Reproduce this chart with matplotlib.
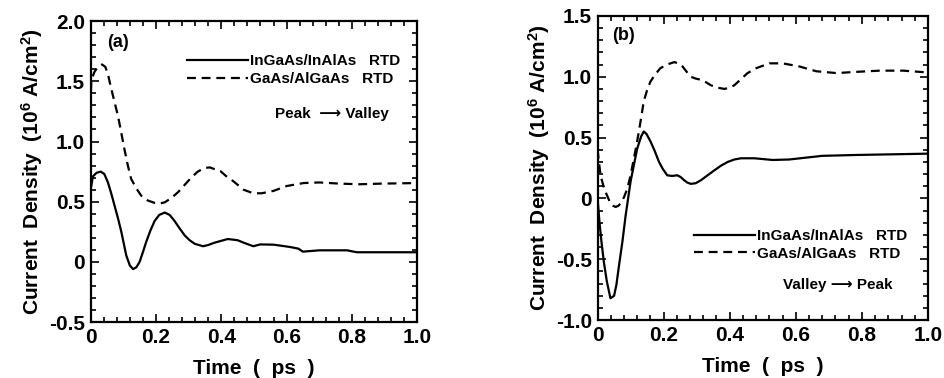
import numpy as np
import matplotlib.pyplot as plt
from matplotlib.ticker import MultipleLocator, FixedLocator, FixedFormatter

plt.rcParams['font.family'] = ['Liberation Sans', 'DejaVu Sans']
plt.rcParams['font.weight'] = 'bold'
plt.rcParams['mathtext.fontset'] = 'custom'
plt.rcParams['mathtext.bf'] = 'Liberation Sans:bold'
plt.rcParams['mathtext.rm'] = 'Liberation Sans:bold'
plt.rcParams['mathtext.default'] = 'bf'

# (a) Peak -> Valley
t_a_in = [0.0, 0.007, 0.018, 0.031, 0.042, 0.053, 0.063, 0.073, 0.084, 0.094, 0.109,
          0.12, 0.13, 0.14, 0.15, 0.16, 0.17, 0.183, 0.196, 0.21, 0.227, 0.242,
          0.257, 0.272, 0.288, 0.303, 0.319, 0.344, 0.36, 0.38, 0.40, 0.42, 0.432,
          0.45, 0.468, 0.483, 0.498, 0.519, 0.56, 0.61, 0.636, 0.65, 0.70, 0.785,
          0.815, 0.90, 1.0]
j_a_in = [0.60, 0.71, 0.74, 0.75, 0.73, 0.66, 0.57, 0.47, 0.36, 0.25, 0.055,
          -0.03, -0.06, -0.045, 0.0, 0.08, 0.165, 0.26, 0.34, 0.39, 0.41, 0.39,
          0.34, 0.28, 0.22, 0.18, 0.15, 0.13, 0.14, 0.16, 0.175, 0.19, 0.186,
          0.18, 0.16, 0.145, 0.13, 0.145, 0.143, 0.124, 0.11, 0.085, 0.096, 0.096,
          0.08, 0.08, 0.08]

t_a_ga = [0.0, 0.002, 0.012, 0.022, 0.035, 0.045, 0.053, 0.063, 0.073, 0.084, 0.094,
          0.104, 0.114, 0.124, 0.14, 0.155, 0.175, 0.196, 0.212, 0.227, 0.247,
          0.268, 0.288, 0.308, 0.328, 0.349, 0.365, 0.38, 0.397, 0.416, 0.437,
          0.468, 0.498, 0.524, 0.56, 0.60, 0.652, 0.70, 0.764, 0.825, 0.887, 1.0]
j_a_ga = [1.30, 1.51, 1.58, 1.62, 1.64, 1.62, 1.56, 1.44, 1.33, 1.21, 1.07,
          0.93, 0.80, 0.69, 0.61, 0.55, 0.51, 0.49, 0.485, 0.495, 0.53,
          0.58, 0.64, 0.70, 0.75, 0.78, 0.785, 0.77, 0.755, 0.71, 0.67,
          0.60, 0.57, 0.57, 0.59, 0.63, 0.655, 0.66, 0.65, 0.645, 0.65, 0.655]

# (b) Valley -> Peak
t_b_in = [0.0, 0.006, 0.012, 0.019, 0.028, 0.039, 0.05, 0.057, 0.065, 0.075, 0.085,
          0.10, 0.12, 0.132, 0.14, 0.148, 0.16, 0.173, 0.186, 0.198, 0.211, 0.225,
          0.242, 0.252, 0.262, 0.272, 0.282, 0.297, 0.313, 0.333, 0.353, 0.374,
          0.394, 0.414, 0.434, 0.475, 0.53, 0.58, 0.68, 0.78, 0.88, 1.0]
j_b_in = [0.0, -0.20, -0.36, -0.52, -0.68, -0.82, -0.80, -0.71, -0.55, -0.36, -0.14,
          0.14, 0.41, 0.51, 0.55, 0.53, 0.47, 0.39, 0.30, 0.24, 0.19, 0.185,
          0.19, 0.175, 0.15, 0.13, 0.12, 0.125, 0.15, 0.19, 0.23, 0.27,
          0.30, 0.32, 0.33, 0.33, 0.316, 0.32, 0.35, 0.357, 0.362, 0.368]

t_b_ga = [0.0, 0.009, 0.017, 0.024, 0.031, 0.039, 0.047, 0.055, 0.063, 0.07, 0.08,
          0.09, 0.10, 0.11, 0.118, 0.125, 0.133, 0.14, 0.15, 0.16, 0.175, 0.19,
          0.21, 0.232, 0.245, 0.257, 0.27, 0.282, 0.297, 0.313, 0.328, 0.343,
          0.363, 0.384, 0.40, 0.414, 0.434, 0.454, 0.48, 0.52, 0.56, 0.61, 0.662,
          0.723, 0.783, 0.854, 0.925, 1.0]
j_b_ga = [0.40, 0.19, 0.11, 0.055, 0.01, -0.04, -0.06, -0.07, -0.06, -0.04, 0.01,
          0.08, 0.19, 0.33, 0.44, 0.55, 0.68, 0.80, 0.89, 0.96, 1.02, 1.07,
          1.10, 1.12, 1.11, 1.085, 1.04, 1.0, 0.985, 0.975, 0.955, 0.93,
          0.91, 0.90, 0.91, 0.93, 0.98, 1.03, 1.07, 1.11, 1.11, 1.085, 1.045,
          1.03, 1.04, 1.05, 1.05, 1.035]

x_ticks = [0, 0.2, 0.4, 0.6, 0.8, 1.0]
x_labels = ['0', '0.2', '0.4', '0.6', '0.8', '1.0']
y_ticks_a = [-0.5, 0, 0.5, 1.0, 1.5, 2.0]
y_labels_a = ['-0.5', '0', '0.5', '1.0', '1.5', '2.0']
y_ticks_b = [-1.0, -0.5, 0, 0.5, 1.0, 1.5]
y_labels_b = ['-1.0', '-0.5', '0', '0.5', '1.0', '1.5']

fig = plt.figure(figsize=(9.44, 3.78), dpi=100)
ax_a = fig.add_axes([0.096, 0.148, 0.346, 0.796])
ax_b = fig.add_axes([0.633, 0.153, 0.350, 0.805])


def style_axes(ax, yticks, ylabels, ylim):
    ax.set_xlim(0, 1.0)
    ax.set_ylim(*ylim)
    ax.xaxis.set_major_locator(FixedLocator(x_ticks))
    ax.xaxis.set_major_formatter(FixedFormatter(x_labels))
    ax.xaxis.set_minor_locator(MultipleLocator(0.04))
    ax.yaxis.set_major_locator(FixedLocator(yticks))
    ax.yaxis.set_major_formatter(FixedFormatter(ylabels))
    ax.yaxis.set_minor_locator(MultipleLocator(0.1))
    ax.tick_params(which='both', direction='in', top=True, right=True, width=1.2)
    ax.tick_params(which='major', length=6, labelsize=15, pad=4)
    ax.tick_params(which='minor', length=3.5)
    for s in ax.spines.values():
        s.set_linewidth(1.6)
    ax.set_xlabel('Time  (  ps  )', fontsize=15, fontweight='bold', labelpad=9)
    ax.set_ylabel(r'Current  Density  (10$^6$ A/cm$^2$)', fontsize=15,
                  fontweight='bold', labelpad=3)


style_axes(ax_a, y_ticks_a, y_labels_a, (-0.5, 2.0))
style_axes(ax_b, y_ticks_b, y_labels_b, (-1.0, 1.5))

for ax, ti, ji, tg, jg in [(ax_a, t_a_in, j_a_in, t_a_ga, j_a_ga),
                           (ax_b, t_b_in, j_b_in, t_b_ga, j_b_ga)]:
    ax.plot(ti, ji, color='black', lw=1.6, label='InGaAs/InAlAs   RTD',
            solid_joinstyle='round')
    ax.plot(tg, jg, color='black', lw=1.6, linestyle=(0, (4, 2.6)),
            label='GaAs/AlGaAs   RTD')

ax_a.legend(loc='upper right', bbox_to_anchor=(0.97, 0.915), frameon=False,
            handlelength=4.0, handletextpad=0.1, labelspacing=0.25,
            borderpad=0, prop={'weight': 'bold', 'size': 11})
ax_b.legend(loc='upper right', bbox_to_anchor=(0.96, 0.325), frameon=False,
            handlelength=4.0, handletextpad=0.1, labelspacing=0.25,
            borderpad=0, prop={'weight': 'bold', 'size': 11})

ax_a.text(0.05, 0.93, '(a)', transform=ax_a.transAxes, fontsize=13,
          fontweight='bold', va='center')
ax_b.text(0.045, 0.935, '(b)', transform=ax_b.transAxes, fontsize=13,
          fontweight='bold', va='center')
ax_a.text(0.565, 0.69, 'Peak  \u27f6 Valley', transform=ax_a.transAxes,
          fontsize=11, fontweight='bold', va='center')
ax_b.text(0.56, 0.115, 'Valley \u27f6 Peak', transform=ax_b.transAxes,
          fontsize=11, fontweight='bold', va='center')

plt.savefig('out.png', dpi=100)
plt.close()
